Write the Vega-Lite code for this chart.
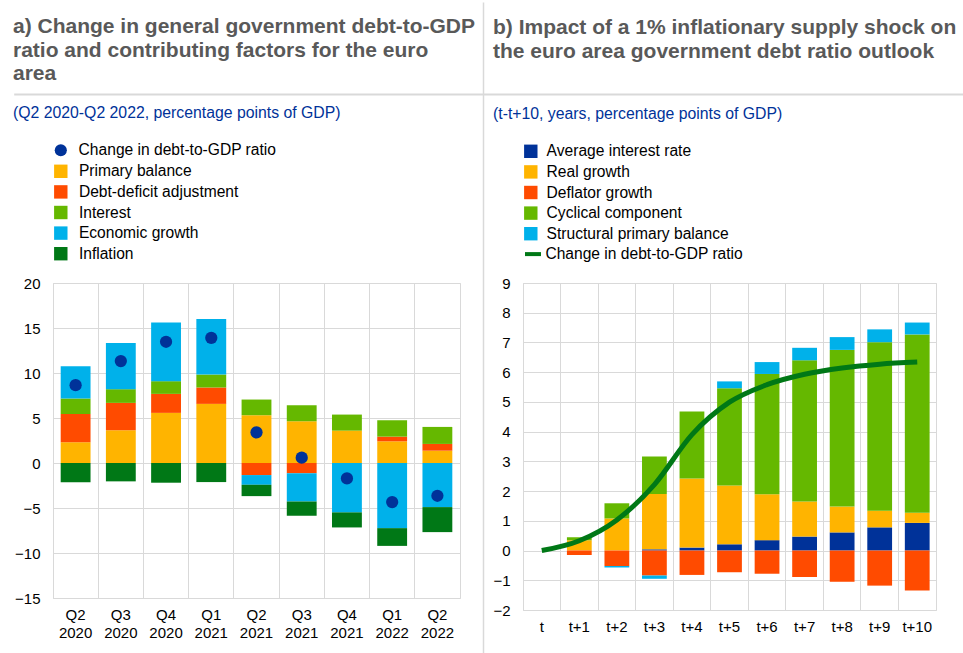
{
  "$schema": "https://vega.github.io/schema/vega-lite/v6.json",
  "padding": {"left": 12, "top": 0, "right": 0, "bottom": 0},
  "bounds": "flush",
  "spacing": 63,
  "config": {
    "font": "Liberation Sans",
    "view": {"stroke": "#d9d9d9", "strokeWidth": 1},
    "axis": {"labelFont": "Liberation Sans", "labelFontSize": 15, "labelColor": "#000000", "gridColor": "#d9d9d9", "gridWidth": 1, "ticks": false, "domain": false, "title": null},
    "legend": {"labelFont": "Liberation Sans", "labelFontSize": 15.6, "labelColor": "#000000", "labelLimit": 400, "orient": "none", "padding": 0, "rowPadding": 3.6, "direction": "vertical", "title": null},
    "title": {"font": "Liberation Sans", "fontSize": 21, "fontWeight": "bold", "color": "#595959", "anchor": "start", "frame": "group", "lineHeight": 23.5, "subtitleFont": "Liberation Sans", "subtitleFontSize": 15.8, "subtitleColor": "#003299", "offset": 21.5}
  },
  "datasets": {
    "a": [
      {"period": "Q2 2020", "series": "Primary balance", "value": 2.3},
      {"period": "Q2 2020", "series": "Debt-deficit adjustment", "value": 3.15},
      {"period": "Q2 2020", "series": "Interest", "value": 1.71},
      {"period": "Q2 2020", "series": "Economic growth", "value": 3.6},
      {"period": "Q2 2020", "series": "Inflation", "value": -2.15},
      {"period": "Q2 2020", "series": "Change in debt-to-GDP ratio", "value": 8.65},
      {"period": "Q3 2020", "series": "Primary balance", "value": 3.64},
      {"period": "Q3 2020", "series": "Debt-deficit adjustment", "value": 3.04},
      {"period": "Q3 2020", "series": "Interest", "value": 1.52},
      {"period": "Q3 2020", "series": "Economic growth", "value": 5.12},
      {"period": "Q3 2020", "series": "Inflation", "value": -2.04},
      {"period": "Q3 2020", "series": "Change in debt-to-GDP ratio", "value": 11.32},
      {"period": "Q4 2020", "series": "Primary balance", "value": 5.57},
      {"period": "Q4 2020", "series": "Debt-deficit adjustment", "value": 2.11},
      {"period": "Q4 2020", "series": "Interest", "value": 1.41},
      {"period": "Q4 2020", "series": "Economic growth", "value": 6.53},
      {"period": "Q4 2020", "series": "Inflation", "value": -2.19},
      {"period": "Q4 2020", "series": "Change in debt-to-GDP ratio", "value": 13.47},
      {"period": "Q1 2021", "series": "Primary balance", "value": 6.57},
      {"period": "Q1 2021", "series": "Debt-deficit adjustment", "value": 1.82},
      {"period": "Q1 2021", "series": "Interest", "value": 1.44},
      {"period": "Q1 2021", "series": "Economic growth", "value": 6.16},
      {"period": "Q1 2021", "series": "Inflation", "value": -2.12},
      {"period": "Q1 2021", "series": "Change in debt-to-GDP ratio", "value": 13.91},
      {"period": "Q2 2021", "series": "Primary balance", "value": 5.31},
      {"period": "Q2 2021", "series": "Debt-deficit adjustment", "value": -1.34},
      {"period": "Q2 2021", "series": "Interest", "value": 1.74},
      {"period": "Q2 2021", "series": "Economic growth", "value": -1.08},
      {"period": "Q2 2021", "series": "Inflation", "value": -1.26},
      {"period": "Q2 2021", "series": "Change in debt-to-GDP ratio", "value": 3.41},
      {"period": "Q3 2021", "series": "Primary balance", "value": 4.64},
      {"period": "Q3 2021", "series": "Debt-deficit adjustment", "value": -1.15},
      {"period": "Q3 2021", "series": "Interest", "value": 1.78},
      {"period": "Q3 2021", "series": "Economic growth", "value": -3.12},
      {"period": "Q3 2021", "series": "Inflation", "value": -1.6},
      {"period": "Q3 2021", "series": "Change in debt-to-GDP ratio", "value": 0.59},
      {"period": "Q4 2021", "series": "Primary balance", "value": 3.6},
      {"period": "Q4 2021", "series": "Interest", "value": 1.78},
      {"period": "Q4 2021", "series": "Economic growth", "value": -5.49},
      {"period": "Q4 2021", "series": "Inflation", "value": -1.67},
      {"period": "Q4 2021", "series": "Change in debt-to-GDP ratio", "value": -1.71},
      {"period": "Q1 2022", "series": "Primary balance", "value": 2.41},
      {"period": "Q1 2022", "series": "Debt-deficit adjustment", "value": 0.52},
      {"period": "Q1 2022", "series": "Interest", "value": 1.82},
      {"period": "Q1 2022", "series": "Economic growth", "value": -7.24},
      {"period": "Q1 2022", "series": "Inflation", "value": -1.97},
      {"period": "Q1 2022", "series": "Change in debt-to-GDP ratio", "value": -4.34},
      {"period": "Q2 2022", "series": "Primary balance", "value": 1.37},
      {"period": "Q2 2022", "series": "Debt-deficit adjustment", "value": 0.75},
      {"period": "Q2 2022", "series": "Interest", "value": 1.89},
      {"period": "Q2 2022", "series": "Economic growth", "value": -4.9},
      {"period": "Q2 2022", "series": "Inflation", "value": -2.78},
      {"period": "Q2 2022", "series": "Change in debt-to-GDP ratio", "value": -3.64}
    ],
    "b": [
      {"year": "t", "series": "Change in debt-to-GDP ratio", "value": 0},
      {"year": "t+1", "series": "Real growth", "value": 0.35},
      {"year": "t+1", "series": "Deflator growth", "value": -0.15},
      {"year": "t+1", "series": "Cyclical component", "value": 0.1},
      {"year": "t+1", "series": "Change in debt-to-GDP ratio", "value": 0.33},
      {"year": "t+2", "series": "Real growth", "value": 1.08},
      {"year": "t+2", "series": "Deflator growth", "value": -0.52},
      {"year": "t+2", "series": "Cyclical component", "value": 0.51},
      {"year": "t+2", "series": "Structural primary balance", "value": -0.05},
      {"year": "t+2", "series": "Change in debt-to-GDP ratio", "value": 1.03},
      {"year": "t+3", "series": "Average interest rate", "value": 0.04},
      {"year": "t+3", "series": "Real growth", "value": 1.86},
      {"year": "t+3", "series": "Deflator growth", "value": -0.84},
      {"year": "t+3", "series": "Cyclical component", "value": 1.26},
      {"year": "t+3", "series": "Structural primary balance", "value": -0.11},
      {"year": "t+3", "series": "Change in debt-to-GDP ratio", "value": 2.22},
      {"year": "t+4", "series": "Average interest rate", "value": 0.1},
      {"year": "t+4", "series": "Real growth", "value": 2.32},
      {"year": "t+4", "series": "Deflator growth", "value": -0.82},
      {"year": "t+4", "series": "Cyclical component", "value": 2.26},
      {"year": "t+4", "series": "Change in debt-to-GDP ratio", "value": 3.9},
      {"year": "t+5", "series": "Average interest rate", "value": 0.21},
      {"year": "t+5", "series": "Real growth", "value": 1.98},
      {"year": "t+5", "series": "Deflator growth", "value": -0.73},
      {"year": "t+5", "series": "Cyclical component", "value": 3.27},
      {"year": "t+5", "series": "Structural primary balance", "value": 0.23},
      {"year": "t+5", "series": "Change in debt-to-GDP ratio", "value": 4.99},
      {"year": "t+6", "series": "Average interest rate", "value": 0.35},
      {"year": "t+6", "series": "Real growth", "value": 1.54},
      {"year": "t+6", "series": "Deflator growth", "value": -0.78},
      {"year": "t+6", "series": "Cyclical component", "value": 4.05},
      {"year": "t+6", "series": "Structural primary balance", "value": 0.4},
      {"year": "t+6", "series": "Change in debt-to-GDP ratio", "value": 5.58},
      {"year": "t+7", "series": "Average interest rate", "value": 0.47},
      {"year": "t+7", "series": "Real growth", "value": 1.18},
      {"year": "t+7", "series": "Deflator growth", "value": -0.89},
      {"year": "t+7", "series": "Cyclical component", "value": 4.75},
      {"year": "t+7", "series": "Structural primary balance", "value": 0.42},
      {"year": "t+7", "series": "Change in debt-to-GDP ratio", "value": 5.93},
      {"year": "t+8", "series": "Average interest rate", "value": 0.61},
      {"year": "t+8", "series": "Real growth", "value": 0.87},
      {"year": "t+8", "series": "Deflator growth", "value": -1.05},
      {"year": "t+8", "series": "Cyclical component", "value": 5.27},
      {"year": "t+8", "series": "Structural primary balance", "value": 0.43},
      {"year": "t+8", "series": "Change in debt-to-GDP ratio", "value": 6.14},
      {"year": "t+9", "series": "Average interest rate", "value": 0.78},
      {"year": "t+9", "series": "Real growth", "value": 0.56},
      {"year": "t+9", "series": "Deflator growth", "value": -1.18},
      {"year": "t+9", "series": "Cyclical component", "value": 5.67},
      {"year": "t+9", "series": "Structural primary balance", "value": 0.43},
      {"year": "t+9", "series": "Change in debt-to-GDP ratio", "value": 6.27},
      {"year": "t+10", "series": "Average interest rate", "value": 0.93},
      {"year": "t+10", "series": "Real growth", "value": 0.34},
      {"year": "t+10", "series": "Deflator growth", "value": -1.34},
      {"year": "t+10", "series": "Cyclical component", "value": 6.0},
      {"year": "t+10", "series": "Structural primary balance", "value": 0.4},
      {"year": "t+10", "series": "Change in debt-to-GDP ratio", "value": 6.34}
    ]
  },
  "hconcat": [
    {
      "width": 407,
      "height": 315,
      "title": {
        "text": ["a) Change in general government debt-to-GDP", "ratio and contributing factors for the euro", "area"],
        "subtitle": "(Q2 2020-Q2 2022, percentage points of GDP)",
        "dx": -40,
        "subtitlePadding": 22,
        "offset": -119.75
      },
      "data": {"name": "a"},
      "layer": [
        {
          "transform": [
            {"filter": "datum.series !== 'Change in debt-to-GDP ratio'"},
            {"calculate": "indexof(['Primary balance', 'Debt-deficit adjustment', 'Interest', 'Economic growth', 'Inflation'], datum.series)", "as": "stackRank"}
          ],
          "mark": {"type": "bar", "width": {"band": 0.66}},
          "encoding": {
            "x": {
              "field": "period", "type": "nominal", "sort": null,
              "scale": {"paddingInner": 0, "paddingOuter": 0},
              "axis": {"grid": true, "bandPosition": 0, "labelAngle": 0, "labelExpr": "split(datum.label, ' ')", "labelLineHeight": 18, "labelPadding": 9}
            },
            "y": {"field": "value", "type": "quantitative", "scale": {"domain": [-15, 20], "nice": false}, "axis": {"values": [-15, -10, -5, 0, 5, 10, 15, 20], "labelPadding": 13, "grid": true}},
            "order": {"field": "stackRank", "type": "quantitative", "sort": "ascending"},
            "color": {
              "field": "series", "type": "nominal",
              "scale": {"domain": ["Primary balance", "Debt-deficit adjustment", "Interest", "Economic growth", "Inflation"], "range": ["#ffb400", "#ff4b00", "#65b800", "#00b1ea", "#007816"]},
              "legend": {"legendX": 0, "legendY": -119.5, "symbolType": "square", "symbolSize": 180, "labelOffset": 10.3, "title": null}
            }
          }
        },
        {
          "transform": [{"filter": "datum.series === 'Change in debt-to-GDP ratio'"}],
          "mark": {"type": "point", "filled": true, "size": 150, "opacity": 1},
          "encoding": {
            "x": {
              "field": "period", "type": "nominal", "sort": null,
              "scale": {"paddingInner": 0, "paddingOuter": 0},
              "axis": {"orient": "top", "values": ["Q2 2022"], "bandPosition": 1, "tickOffset": 23, "offset": -371, "ticks": true, "tickSize": 652, "tickColor": "#d9d9d9", "tickWidth": 1.5, "labels": false, "grid": false, "domain": false}
            },
            "y": {"field": "value", "type": "quantitative", "stack": null, "scale": {"domain": [-15, 20], "nice": false},
              "axis": {"orient": "right", "values": [20], "tickOffset": -189.3, "offset": -446.3, "ticks": true, "tickSize": 950, "tickColor": "#d9d9d9", "tickWidth": 2, "labels": false, "grid": false, "domain": false}
            },
            "color": {
              "field": "series", "type": "nominal",
              "scale": {"domain": ["Change in debt-to-GDP ratio"], "range": ["#003299"]},
              "legend": {"legendX": 0, "legendY": -140.5, "symbolType": "circle", "symbolSize": 147, "labelOffset": 10, "title": null}
            }
          }
        }
      ],
      "resolve": {"scale": {"color": "independent"}, "axis": {"x": "independent", "y": "independent"}}
    },
    {
      "width": 413,
      "height": 327,
      "title": {
        "text": ["b) Impact of a 1% inflationary supply shock on", "the euro area government debt ratio outlook"],
        "subtitle": "(t-t+10, years, percentage points of GDP)",
        "dx": -30,
        "subtitlePadding": 45.5
      },
      "data": {"name": "b"},
      "encoding": {
        "x": {
          "field": "year", "type": "nominal", "sort": null,
          "scale": {"domain": ["t", "t+1", "t+2", "t+3", "t+4", "t+5", "t+6", "t+7", "t+8", "t+9", "t+10"], "paddingInner": 0, "paddingOuter": 0},
          "axis": {"grid": true, "bandPosition": 0, "labelAngle": 0, "labelPadding": 9}
        }
      },
      "layer": [
        {
          "transform": [
            {"filter": "datum.series !== 'Change in debt-to-GDP ratio'"},
            {"calculate": "indexof(['Average interest rate', 'Real growth', 'Deflator growth', 'Cyclical component', 'Structural primary balance'], datum.series)", "as": "stackRank"}
          ],
          "mark": {"type": "bar", "width": {"band": 0.66}},
          "encoding": {
            "y": {"field": "value", "type": "quantitative", "scale": {"domain": [-2, 9], "nice": false}, "axis": {"values": [-2, -1, 0, 1, 2, 3, 4, 5, 6, 7, 8, 9], "labelPadding": 13, "grid": true}},
            "order": {"field": "stackRank", "type": "quantitative", "sort": "ascending"},
            "color": {
              "field": "series", "type": "nominal",
              "scale": {"domain": ["Average interest rate", "Real growth", "Deflator growth", "Cyclical component", "Structural primary balance"], "range": ["#003299", "#ffb400", "#ff4b00", "#65b800", "#00b1ea"]},
              "legend": {"legendX": 0, "legendY": -139.5, "symbolType": "square", "symbolSize": 180, "labelOffset": 8, "title": null}
            }
          }
        },
        {
          "transform": [{"filter": "datum.series === 'Change in debt-to-GDP ratio'"}],
          "mark": {"type": "line", "strokeWidth": 5, "interpolate": "monotone"},
          "encoding": {
            "y": {"field": "value", "type": "quantitative", "stack": null, "scale": {"domain": [-2, 9], "nice": false}, "axis": {"values": [-2, -1, 0, 1, 2, 3, 4, 5, 6, 7, 8, 9], "labelPadding": 13, "grid": true}},
            "color": {
              "field": "series", "type": "nominal",
              "scale": {"domain": ["Change in debt-to-GDP ratio"], "range": ["#007816"]},
              "legend": {"legendX": 0, "legendY": -38.9, "symbolType": "stroke", "symbolSize": 256, "symbolStrokeWidth": 4, "labelOffset": 2.4, "title": null}
            }
          }
        }
      ],
      "resolve": {"scale": {"color": "independent"}}
    }
  ]
}
